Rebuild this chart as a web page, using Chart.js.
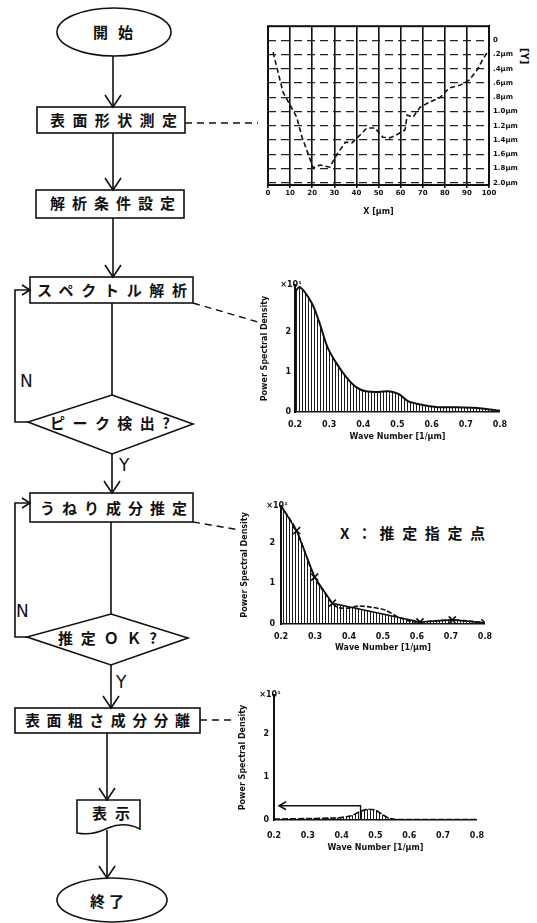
<!DOCTYPE html>
<html>
<head>
<meta charset="utf-8">
<script src="https://cdn.jsdelivr.net/npm/chart.js@4.4.1/dist/chart.umd.min.js"></script>
<style>
html, body { margin: 0; padding: 0; background: #fff; }
#page { position: relative; width: 537px; height: 923px; overflow: hidden; background: #fff; }
#flow { position: absolute; left: 0; top: 0; }
#flow .ln { stroke: #111; stroke-width: 1.6; fill: none; }
#flow .dash { stroke: #111; stroke-width: 1.4; fill: none; stroke-dasharray: 7 5; }
#flow .jp { font-family: "Noto Sans CJK JP"; font-weight: 700; font-size: 15px; fill: #111; }
#flow .yn { font-family: "DejaVu Sans"; font-size: 17px; fill: #111; }
canvas { position: absolute; }
</style>
</head>
<body>
<div id="page">
<svg id="flow" width="537" height="923" xmlns="http://www.w3.org/2000/svg">
  <!-- start -->
  <ellipse class="ln" cx="114" cy="32" rx="57" ry="24"/>
  <text class="jp" x="93" y="38" font-size="16" textLength="40" lengthAdjust="spacing">開始</text>
  <line class="ln" x1="113" y1="56" x2="113" y2="106"/>
  <polyline class="ln" points="105,95 113,107 121,95"/>

  <rect class="ln" x="37" y="107" width="148" height="26"/>
  <text class="jp" x="50" y="126" textLength="127" lengthAdjust="spacing">表面形状測定</text>
  <line class="dash" x1="185" y1="123" x2="258" y2="123"/>
  <line class="ln" x1="113" y1="133" x2="113" y2="189"/>
  <polyline class="ln" points="105,178 113,190 121,178"/>

  <rect class="ln" x="36" y="190" width="148" height="28"/>
  <text class="jp" x="50" y="209" textLength="125" lengthAdjust="spacing">解析条件設定</text>
  <line class="ln" x1="113" y1="218" x2="113" y2="276"/>
  <polyline class="ln" points="105,265 113,277 121,265"/>

  <rect class="ln" x="30" y="277" width="163" height="26"/>
  <text class="jp" x="37" y="296" textLength="150" lengthAdjust="spacing">スペクトル解析</text>
  <line class="dash" x1="193" y1="303" x2="258" y2="322"/>
  <line class="ln" x1="112" y1="303" x2="112" y2="395"/>

  <polygon class="ln" points="112,395 193,424 112,454 28,422"/>
  <text class="jp" x="50" y="429" textLength="120" lengthAdjust="spacing">ピーク検出?</text>
  <polyline class="ln" points="28,422 15,422 15,290 30,290"/>
  <polyline class="ln" points="22,285 30,290 22,295"/>
  <text class="yn" x="20" y="387">N</text>
  <line class="ln" x1="112" y1="454" x2="112" y2="492"/>
  <polyline class="ln" points="104,481 112,493 120,481"/>
  <text class="yn" x="119" y="471">Y</text>

  <rect class="ln" x="30" y="493" width="163" height="29"/>
  <text class="jp" x="40" y="514" textLength="147" lengthAdjust="spacing">うねり成分推定</text>
  <line class="dash" x1="193" y1="522" x2="240" y2="530"/>
  <polyline class="ln" points="27,637 15,637 15,503 30,503"/>
  <polyline class="ln" points="22,498 30,503 22,508"/>
  <line class="ln" x1="111" y1="522" x2="111" y2="614"/>

  <polygon class="ln" points="111,614 188,638 111,665 27,637"/>
  <text class="jp" x="58" y="644" textLength="99" lengthAdjust="spacing">推定ＯＫ?</text>
  <text class="yn" x="16" y="617">N</text>
  <text class="yn" x="116" y="688">Y</text>
  <line class="ln" x1="111" y1="665" x2="111" y2="707"/>
  <polyline class="ln" points="103,696 111,708 119,696"/>

  <rect class="ln" x="15" y="708" width="185" height="25"/>
  <text class="jp" x="25" y="726" textLength="165" lengthAdjust="spacing">表面粗さ成分分離</text>
  <line class="dash" x1="200" y1="720" x2="232" y2="720"/>
  <line class="ln" x1="107" y1="733" x2="107" y2="799"/>
  <polyline class="ln" points="99,788 107,800 115,788"/>

  <path class="ln" d="M77,800 L140,800 L140,829 Q124,821 108,828 Q92,836 77,833 Z"/>
  <text class="jp" x="92" y="819" textLength="38" lengthAdjust="spacing">表示</text>
  <line class="ln" x1="107" y1="830" x2="107" y2="877"/>
  <polyline class="ln" points="99,866 107,878 115,866"/>

  <ellipse class="ln" cx="112" cy="900" rx="55" ry="22"/>
  <text class="jp" x="90" y="907" textLength="34" lengthAdjust="spacing">終了</text>

  <!-- annotations beside the charts -->
  <text class="jp" x="340" y="539" textLength="145" lengthAdjust="spacing">X：推定指定点</text>
  <text font-family="DejaVu Sans" font-weight="700" font-size="10" fill="#111" transform="translate(521,48) rotate(90)">[Y]</text>
</svg>

<canvas id="c1" width="297" height="202" style="left:240px;top:18px"></canvas>
<canvas id="c2" width="270" height="170" style="left:245px;top:275px"></canvas>
<canvas id="c3" width="262" height="158" style="left:238px;top:495px"></canvas>
<canvas id="c4" width="260" height="170" style="left:235px;top:685px"></canvas>
</div>

<script>
// surface profile (X in μm, Y depth)
const profileX = [2.3, 6.8, 10, 13, 15.4, 18, 20.4, 23.5, 28, 31, 35, 38, 41.6, 44.8, 48.4,
                  52, 55, 58, 62, 63, 65.6, 68.8, 73, 78, 82, 87, 91, 94.6, 97, 99];
const profileY = [0.17, 0.73, 0.91, 1.08, 1.36, 1.58, 1.79, 1.75, 1.78, 1.61, 1.43, 1.44, 1.33, 1.23, 1.23,
                  1.36, 1.37, 1.33, 1.26, 1.05, 1.08, 0.94, 0.87, 0.80, 0.67, 0.63, 0.56, 0.42, 0.28, 0.18];
const profileXTicks = [0, 10, 20, 30, 40, 50, 60, 70, 80, 90, 100];
const profileYTicks = [0, 0.2, 0.4, 0.6, 0.8, 1.0, 1.2, 1.4, 1.6, 1.8, 2.0];
const profileYLabels = ['0', '.2μm', '.4μm', '.6μm', '.8μm', '1.0μm', '1.2μm', '1.4μm', '1.6μm', '1.8μm', '2.0μm'];

// power spectrum
const waveTicks = [0.2, 0.3, 0.4, 0.5, 0.6, 0.7, 0.8];
const psdTicks = [0, 1, 2];
const specX = [0.2, 0.214, 0.249, 0.272, 0.295, 0.321, 0.35, 0.379, 0.407, 0.445, 0.474, 0.503, 0.531, 0.56, 0.618, 0.676, 0.733, 0.79, 0.8];
const specY = [3.0, 3.12, 2.72, 2.22, 1.62, 1.22, 0.87, 0.62, 0.52, 0.5, 0.52, 0.45, 0.27, 0.2, 0.12, 0.12, 0.1, 0.04, 0.03];

// waviness estimate (X marks) and spectrum outline
const estX = [0.2, 0.246, 0.299, 0.351, 0.609, 0.704, 0.8];
const estY = [2.9, 2.29, 1.15, 0.51, 0.05, 0.1, 0.03];
const spec3X = [0.2, 0.246, 0.299, 0.351, 0.37, 0.4, 0.429, 0.467, 0.507, 0.545, 0.583, 0.609, 0.704, 0.8];
const spec3Y = [2.9, 2.29, 1.15, 0.51, 0.4, 0.39, 0.44, 0.41, 0.34, 0.17, 0.06, 0.05, 0.1, 0.03];

// separated roughness component
const roughX = [0.2, 0.39, 0.428, 0.456, 0.477, 0.5, 0.526, 0.54, 0.563, 0.8];
const roughY = [0.02, 0.05, 0.1, 0.2, 0.25, 0.23, 0.1, 0.04, 0.01, 0.01];
const arrowX = [0.456, 0.456, 0.215];
const arrowY = [0, 0.33, 0.33];

const black = '#111';
const tickFont = { family: 'DejaVu Sans', size: 8, weight: 'bold' };
const pts = (xs, ys) => xs.map((x, i) => ({ x: x, y: ys[i] }));

function hatch() {
  const p = document.createElement('canvas');
  p.width = 3; p.height = 4;
  const g = p.getContext('2d');
  g.fillStyle = '#1a1a1a';
  g.fillRect(0, 0, 1, 4);
  return g.createPattern(p, 'repeat');
}

const base = {
  responsive: false,
  animation: false,
  devicePixelRatio: 1,
  events: [],
  plugins: { legend: { display: false }, tooltip: { enabled: false } }
};

const frame = {
  id: 'frame',
  afterDraw(chart) {
    const a = chart.chartArea, c = chart.ctx;
    c.save();
    c.strokeStyle = black;
    c.lineWidth = 2;
    c.strokeRect(a.left, a.top, a.right - a.left, a.bottom - a.top);
    c.restore();
  }
};

const unitLabel = {
  id: 'unitLabel',
  afterDraw(chart) {
    const a = chart.chartArea, c = chart.ctx;
    c.save();
    c.fillStyle = black;
    c.font = 'bold 8px "DejaVu Sans"';
    c.textAlign = 'center';
    c.textBaseline = 'middle';
    c.fillText('×10¹', a.left - 4, a.top);
    c.restore();
  }
};

const arrowHead = {
  id: 'arrowHead',
  afterDatasetsDraw(chart) {
    const meta = chart.getDatasetMeta(1);
    const p = meta.data[meta.data.length - 1];
    const c = chart.ctx;
    c.save();
    c.strokeStyle = black;
    c.lineWidth = 1.5;
    c.beginPath();
    c.moveTo(p.x + 7, p.y - 4);
    c.lineTo(p.x, p.y);
    c.lineTo(p.x + 7, p.y + 4);
    c.stroke();
    c.restore();
  }
};

// chart 1: surface profile
new Chart(document.getElementById('c1'), {
  type: 'line',
  data: {
    datasets: [{
      data: pts(profileX, profileY),
      borderColor: black, borderWidth: 1.6, borderDash: [5, 3],
      pointRadius: 0, tension: 0, fill: false
    }]
  },
  options: Object.assign({}, base, {
    layout: { padding: { left: 28, top: 8, right: 0, bottom: 0 } },
    scales: {
      x: {
        type: 'linear', min: 0, max: 100,
        afterBuildTicks: ax => { ax.ticks = profileXTicks.map(v => ({ value: v })); },
        afterFit: ax => { ax.height = 35; },
        grid: { color: black, lineWidth: 1.6, drawTicks: true, tickLength: 3 },
        border: { color: black, width: 2 },
        ticks: { color: black, font: { family: 'DejaVu Sans', size: 7, weight: 'bold' }, padding: 1, maxRotation: 0, autoSkip: false },
        title: { display: true, text: 'X [μm]', color: black, font: tickFont, padding: { top: 0, bottom: 3 } }
      },
      y: {
        type: 'linear', position: 'right', min: -0.196, max: 2.03, reverse: true,
        afterBuildTicks: ax => { ax.ticks = profileYTicks.map(v => ({ value: v })); },
        afterFit: ax => { ax.width = 48; },
        grid: { color: '#222', lineWidth: 1.2, drawTicks: false },
        border: { color: black, width: 2, dash: [8, 5] },
        ticks: { color: black, font: { family: 'DejaVu Sans', size: 7, weight: 'bold' }, padding: 4,
                 callback: (v, i) => profileYLabels[i] }
      }
    }
  }),
  plugins: [frame]
});

function psdScales(o) {
  return {
    x: {
      type: 'linear', min: 0.2, max: 0.8,
      afterBuildTicks: ax => { ax.ticks = waveTicks.map(v => ({ value: v })); },
      afterFit: ax => { ax.height = o.xh; },
      grid: { display: false, drawTicks: false },
      border: { color: black, width: 1.6 },
      ticks: { color: black, font: tickFont, padding: o.xpad, maxRotation: 0, autoSkip: false,
               callback: v => v.toFixed(1) },
      title: { display: true, text: 'Wave Number [1/μm]', color: black, font: tickFont,
               padding: { top: 0, bottom: o.xtb } }
    },
    y: {
      type: 'linear', min: 0, max: o.ymax,
      afterBuildTicks: ax => { ax.ticks = psdTicks.map(v => ({ value: v })); },
      afterFit: ax => { ax.width = o.yw; },
      grid: { display: false, drawTicks: false },
      border: { color: black, width: 2 },
      ticks: { color: black, font: tickFont, padding: o.ypad },
      title: { display: true, text: 'Power Spectral Density', color: black, font: tickFont,
               padding: { top: o.ytt, bottom: 0 } }
    }
  };
}

// chart 2: spectrum
new Chart(document.getElementById('c2'), {
  type: 'line',
  data: {
    datasets: [{
      data: pts(specX, specY),
      borderColor: black, borderWidth: 2, pointRadius: 0, tension: 0.3,
      fill: 'origin', backgroundColor: hatch()
    }]
  },
  options: Object.assign({}, base, {
    layout: { padding: { left: 0, top: 10, right: 12, bottom: 0 } },
    scales: psdScales({ ymax: 3.17, yw: 50, xh: 33, xpad: 8, xtb: 3, ypad: 4, ytt: 15 })
  }),
  plugins: [unitLabel]
});

// chart 3: waviness estimate
new Chart(document.getElementById('c3'), {
  type: 'line',
  data: {
    datasets: [{
      data: pts(estX, estY),
      borderColor: black, borderWidth: 1.6, tension: 0,
      fill: 'origin', backgroundColor: hatch(),
      pointStyle: 'crossRot', pointBorderColor: black, pointBorderWidth: 1.6,
      pointRadius: ctx => ctx.dataIndex === 0 ? 0 : 5
    }, {
      data: pts(spec3X, spec3Y),
      borderColor: black, borderWidth: 1.6, borderDash: [5, 2], tension: 0.3,
      pointRadius: 0, fill: false
    }]
  },
  options: Object.assign({}, base, {
    layout: { padding: { left: 0, top: 10, right: 12, bottom: 0 } },
    scales: psdScales({ ymax: 2.9, yw: 43, xh: 29, xpad: 8, xtb: 0, ypad: 6, ytt: 2 })
  }),
  plugins: [unitLabel]
});

// chart 4: roughness component
new Chart(document.getElementById('c4'), {
  type: 'line',
  data: {
    datasets: [{
      data: pts(roughX, roughY),
      borderColor: black, borderWidth: 1.6, borderDash: [6, 2], tension: 0.2,
      pointRadius: 0, fill: 'origin', backgroundColor: hatch()
    }, {
      data: pts(arrowX, arrowY),
      borderColor: black, borderWidth: 1.4, tension: 0, pointRadius: 0, fill: false
    }]
  },
  options: Object.assign({}, base, {
    layout: { padding: { left: 0, top: 10, right: 13, bottom: 0 } },
    scales: psdScales({ ymax: 2.9, yw: 39, xh: 35, xpad: 11, xtb: 2, ypad: 5, ytt: 3 })
  }),
  plugins: [unitLabel, arrowHead]
});
</script>
</body>
</html>
